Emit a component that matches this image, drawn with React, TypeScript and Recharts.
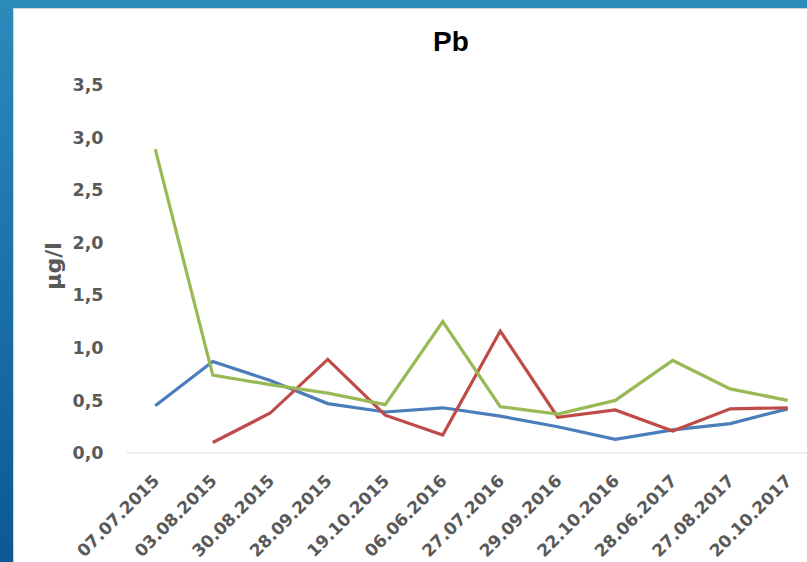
import { LineChart, Line, XAxis, YAxis } from "recharts";

const dates = [
  "07.07.2015",
  "03.08.2015",
  "30.08.2015",
  "28.09.2015",
  "19.10.2015",
  "06.06.2016",
  "27.07.2016",
  "29.09.2016",
  "22.10.2016",
  "28.06.2017",
  "27.08.2017",
  "20.10.2017",
];

const blueValues = [0.45, 0.87, 0.69, 0.47, 0.39, 0.43, 0.35, 0.25, 0.13, 0.22, 0.28, 0.42];
const redValues = [null, 0.1, 0.38, 0.89, 0.36, 0.17, 1.16, 0.34, 0.41, 0.21, 0.42, 0.43];
const greenValues = [2.89, 0.74, 0.65, 0.57, 0.46, 1.25, 0.44, 0.37, 0.5, 0.88, 0.61, 0.5];

const yTicks = [0, 0.5, 1, 1.5, 2, 2.5, 3, 3.5];

const data = dates.map((date, i) => ({
  date,
  blue: blueValues[i],
  red: redValues[i],
  green: greenValues[i],
}));

const LABEL_FONT = "'DejaVu Sans', sans-serif";
const LABEL_COLOR = "#595959";

// rotated date labels under the axis
// eslint-disable-next-line @typescript-eslint/no-explicit-any
function DateTick({ x, y, payload }: any) {
  return (
    <g transform={`translate(${x + 5},${y + 29})`}>
      <text
        textAnchor="end"
        transform="rotate(-45)"
        fill={LABEL_COLOR}
        fontFamily={LABEL_FONT}
        fontWeight="bold"
        fontSize={17}
      >
        {payload.value}
      </text>
    </g>
  );
}

export default function App() {
  return (
    <div
      style={{
        position: "fixed",
        left: 0,
        top: 0,
        width: 807,
        height: 562,
        overflow: "hidden",
        background: "linear-gradient(to bottom, #2b8bbb, #0c5893)",
      }}
    >
      <div
        style={{
          position: "absolute",
          left: 13,
          top: 8,
          width: 820,
          height: 580,
          background: "#fff",
          borderLeft: "1px solid #c9d5df",
          borderTop: "1px solid #c9d5df",
        }}
      />
      <div style={{ position: "absolute", left: 0, top: 0 }}>
        <LineChart
          width={830}
          height={562}
          data={data}
          margin={{ top: 85, right: 13.5, bottom: 0, left: 0 }}
        >
          <XAxis
            dataKey="date"
            height={109}
            interval={0}
            padding={{ left: 28.75, right: 28.75 }}
            tickLine={false}
            tickSize={0}
            tickMargin={0}
            axisLine={{ stroke: "#d9d9d9", strokeWidth: 1 }}
            tick={<DateTick />}
          />
          <YAxis
            width={126.5}
            domain={[0, 3.5]}
            ticks={yTicks}
            axisLine={false}
            tickLine={false}
            tickSize={0}
            tickMargin={23}
            tickFormatter={(v: number) => v.toFixed(1).replace(".", ",")}
            tick={{
              fill: LABEL_COLOR,
              fontFamily: LABEL_FONT,
              fontWeight: "bold",
              fontSize: 17.5,
            }}
          />
          <Line
            dataKey="blue"
            stroke="#4a7ebb"
            strokeWidth={3.2}
            dot={false}
            isAnimationActive={false}
          />
          <Line
            dataKey="red"
            stroke="#be4b48"
            strokeWidth={3.2}
            dot={false}
            isAnimationActive={false}
          />
          <Line
            dataKey="green"
            stroke="#98b954"
            strokeWidth={3.2}
            dot={false}
            isAnimationActive={false}
          />
        </LineChart>
      </div>
      <svg
        width={807}
        height={562}
        style={{ position: "absolute", left: 0, top: 0, pointerEvents: "none" }}
      >
        <text
          x={451}
          y={51}
          textAnchor="middle"
          fontFamily="'Liberation Sans', Arial, sans-serif"
          fontWeight="bold"
          fontSize={28}
          fill="#000"
        >
          Pb
        </text>
        <text
          transform="translate(61,266) rotate(-90)"
          textAnchor="middle"
          fontFamily={LABEL_FONT}
          fontWeight="bold"
          fontSize={22}
          fill={LABEL_COLOR}
        >
          µg/l
        </text>
      </svg>
    </div>
  );
}
